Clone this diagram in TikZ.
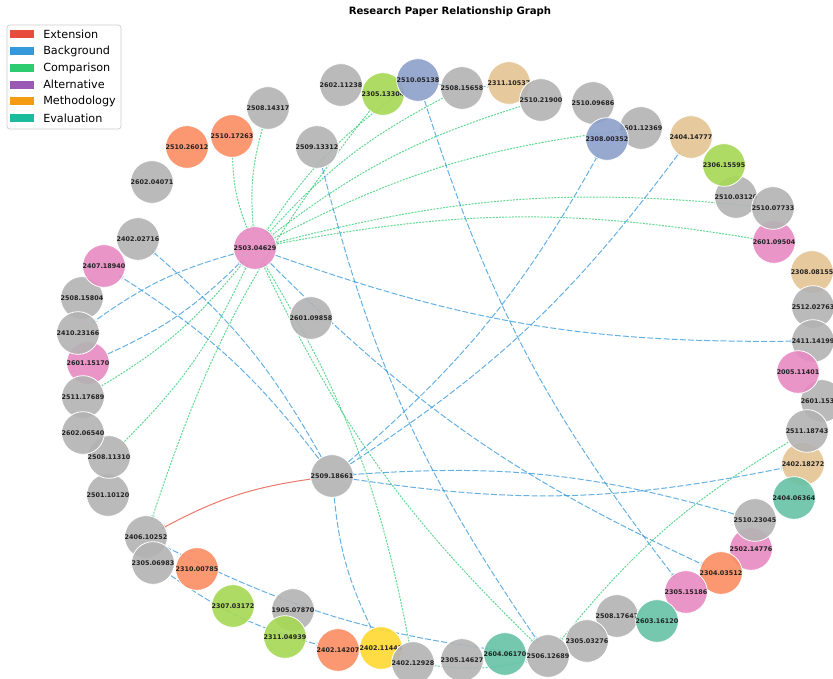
\documentclass[tikz,border=0pt]{standalone}
\usepackage{fontspec}
\setmainfont{DejaVu Sans}
\usetikzlibrary{arrows.meta}
\pgfdeclarelayer{back}
\pgfdeclarelayer{bg}
\pgfsetlayers{back,bg,main}
\definecolor{cgray}{HTML}{B3B3B3}
\definecolor{cpink}{HTML}{E78AC3}
\definecolor{cgreen}{HTML}{A6D854}
\definecolor{cblue}{HTML}{8DA0CB}
\definecolor{ctan}{HTML}{E5C494}
\definecolor{corange}{HTML}{FC8D62}
\definecolor{cteal}{HTML}{66C2A5}
\definecolor{cyellow}{HTML}{FFD92F}
\definecolor{eext}{HTML}{E74C3C}
\definecolor{ebg}{HTML}{3498DB}
\definecolor{ecmp}{HTML}{2ECC71}
\definecolor{ealt}{HTML}{9B59B6}
\definecolor{emeth}{HTML}{F39C12}
\definecolor{eeval}{HTML}{1ABC9C}
\definecolor{lbl}{HTML}{222222}
\begin{document}
\begin{tikzpicture}[x=0.75pt,y=-0.75pt,
  paper/.style={circle, minimum size=28.5pt, inner sep=0pt, draw=white, line width=0.6pt,
    fill opacity=0.9, text opacity=1, text=lbl, font=\fontsize{4.8}{5}\selectfont\bfseries},
  pg/.style={paper, fill=cgray}, pp/.style={paper, fill=cpink}, pgr/.style={paper, fill=cgreen},
  pb/.style={paper, fill=cblue}, pt/.style={paper, fill=ctan}, po/.style={paper, fill=corange},
  pte/.style={paper, fill=cteal}, py/.style={paper, fill=cyellow},
  link/.style={line width=0.75pt, draw opacity=0.75, bend right=10, shorten >=-3pt,
    -{Stealth[length=3.6pt,width=2.8pt]}},
  extl/.style={link, draw=eext},
  bgl/.style={link, draw=ebg, dash pattern=on 4.5pt off 1.6pt},
  cmpl/.style={link, draw=ecmp, dash pattern=on 1.5pt off 0.9pt},
  legpatch/.style={inner sep=0pt, minimum width=18pt, minimum height=6pt},
  legtext/.style={anchor=west, inner sep=0pt, font=\fontsize{8.4}{10}\selectfont}
]
\useasboundingbox (0,0) rectangle (833,679);
\begin{pgfonlayer}{back}
\fill[white] (0,0) rectangle (833,679);
\end{pgfonlayer}
\clip (0,0) rectangle (833,679);

% title
\node[font=\fontsize{7.6}{9}\selectfont\bfseries] (title) at (450,12) {Research Paper Relationship Graph};

% nodes (later = on top)
\node[pg] (n2602a) at (341,85) {2602.11238};
\node[pgr] (n2305a) at (383,94) {2305.13304};
\node[pb] (n2510a) at (418,80) {2510.05138};
\node[pg] (n2508a) at (462,88) {2508.15658};
\node[pt] (n2311a) at (509,83) {2311.10537};
\node[pg] (n2510b) at (541,100) {2510.21900};
\node[pg] (n2510c) at (593,103) {2510.09686};
\node[pg] (n2601a) at (641,128) {2601.12369};
\node[pb] (n2308a) at (607,139) {2308.00352};
\node[pt] (n2404a) at (691,137) {2404.14777};
\node[pp] (n2601b) at (774,242) {2601.09504};
\node[pg] (n2510d) at (736,197) {2510.03120};
\node[pgr] (n2306a) at (724,165) {2306.15595};
\node[pg] (n2510e) at (773,208) {2510.07733};
\node[pt] (n2308b) at (812,272) {2308.08155};
\node[pg] (n2512a) at (813,307) {2512.02763};
\node[pg] (n2411a) at (813,341) {2411.14199};
\node[pg] (n2601c) at (822,401) {2601.153\phantom{00}};
\node[pp] (n2005a) at (798,372) {2005.11401};
\node[pt] (n2402a) at (803,464) {2402.18272};
\node[pg] (n2511a) at (807,431) {2511.18743};
\node[pte] (n2404b) at (794,498) {2404.06364};
\node[pp] (n2502a) at (751,549) {2502.14776};
\node[pg] (n2510f) at (755,520) {2510.23045};
\node[po] (n2304a) at (721,573) {2304.03512};
\node[pp] (n2305b) at (686,592) {2305.15186};
\node[pg] (n2508b) at (617,616) {2508.17647};
\node[pte] (n2603a) at (657,621) {2603.16120};
\node[pg] (n2305c) at (587,641) {2305.03276};
\node[pg] (n2506a) at (548,656) {2506.12689};
\node[pte] (n2604a) at (505,654) {2604.06170};
\node[py] (n2402c) at (381,648) {2402.11443};
\node[pg] (n2402b) at (413,663) {2402.12928};
\node[pg] (n2305d) at (462,660) {2305.14627};
\node[po] (n2402d) at (338,650) {2402.14207};
\node[pg] (n1905a) at (293,610) {1905.07870};
\node[pgr] (n2311b) at (285,637) {2311.04939};
\node[pgr] (n2307a) at (233,606) {2307.03172};
\node[pg] (n2406a) at (146,537) {2406.10252};
\node[pg] (n2305e) at (153,563) {2305.06983};
\node[po] (n2310a) at (197,569) {2310.00785};
\node[pg] (n2501a) at (108,495) {2501.10120};
\node[pg] (n2508c) at (109,457) {2508.11310};
\node[pp] (n2601d) at (88,363) {2601.15170};
\node[pg] (n2508d) at (82,298) {2508.15804};
\node[pg] (n2410a) at (78,333) {2410.23166};
\node[pg] (n2511b) at (83,397) {2511.17689};
\node[pg] (n2602b) at (83,433) {2602.06540};
\node[pp] (n2407a) at (104,266) {2407.18940};
\node[pg] (n2402e) at (138,239) {2402.02716};
\node[pg] (n2602c) at (152,182) {2602.04071};
\node[po] (n2510g) at (187,147) {2510.26012};
\node[po] (n2510h) at (232,136) {2510.17263};
\node[pg] (n2508e) at (268,108) {2508.14317};
\node[pg] (n2509a) at (317,147) {2509.13312};
\node[pp] (hub) at (255,248) {2503.04629};
\node[pg] (n2601e) at (311,318) {2601.09858};
\node[pg] (n2509b) at (332,476) {2509.18661};

% edges (under the nodes)
\begin{pgfonlayer}{bg}
\clip (0,0) rectangle (833,679);
% Comparison
\draw[cmpl] (n2510h) to (hub);
\draw[cmpl] (n2508e) to (hub);
\draw[cmpl] (n2510a) to (hub);
\draw[cmpl] (n2508a) to (hub);
\draw[cmpl] (n2510b) to (hub);
\draw[cmpl] (n2601a) to (hub);
\draw[cmpl] (n2510e) to (hub);
\draw[cmpl] (n2601b) to (hub);
\draw[cmpl] (n2511b) to (hub);
\draw[cmpl] (n2508c) to (hub);
\draw[cmpl] (n2402b) to (hub);
\draw[cmpl] (hub) to (n2506a);
\draw[cmpl] (n2305a) to (n2406a);
\draw[cmpl] (n2511a) to (n2506a);
\draw[cmpl] (n2402b) to (n2506a);
% Background
\draw[bgl] (hub) to (n2410a);
\draw[bgl] (n2601d) to (hub);
\draw[bgl] (hub) to (n2304a);
\draw[bgl] (hub) to (n2411a);
\draw[bgl] (n2509a) to (n2506a);
\draw[bgl] (n2510a) to (n2305b);
\draw[bgl] (n2509b) to (n2308a);
\draw[bgl] (n2509b) to (n2404a);
\draw[bgl] (n2509b) to (n2402e);
\draw[bgl] (n2509b) to (n2407a);
\draw[bgl] (n2509b) to (n2402c);
\draw[bgl] (n2509b) to (n2402a);
\draw[bgl] (n2510f) to (n2509b);
\draw[bgl] (n2510a) to (n2311a);
\draw[bgl] (n2305e) to (n2402d);
\draw[bgl] (n2406a) to (n2506a);
% Extension
\draw[extl] (n2509b) to (n2406a);
\end{pgfonlayer}

% legend
\draw[draw=black!20, fill=white, fill opacity=0.85, rounded corners=2pt, line width=0.5pt] (7,25) rectangle (121,129);
\node[legpatch, fill=eext] (k1) at (22,34) {};
\node[legpatch, fill=ebg] (k2) at (22,51) {};
\node[legpatch, fill=ecmp] (k3) at (22,68) {};
\node[legpatch, fill=ealt] (k4) at (22,84.5) {};
\node[legpatch, fill=emeth] (k5) at (22,101) {};
\node[legpatch, fill=eeval] (k6) at (22,118) {};
\node[legtext] (t1) at (43,34) {Extension};
\node[legtext] (t2) at (43,51) {Background};
\node[legtext] (t3) at (43,68) {Comparison};
\node[legtext] (t4) at (43,84.5) {Alternative};
\node[legtext] (t5) at (43,101) {Methodology};
\node[legtext] (t6) at (43,118) {Evaluation};
\end{tikzpicture}
\end{document}
